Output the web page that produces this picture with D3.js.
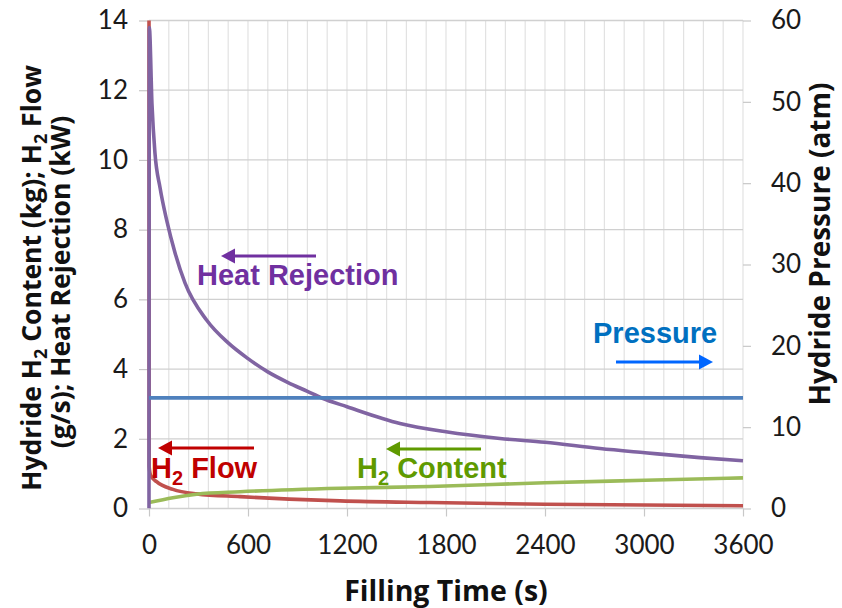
<!DOCTYPE html>
<html>
<head>
<meta charset="utf-8">
<script src="https://cdn.jsdelivr.net/npm/d3@7"></script>
<style>
  html, body { margin: 0; padding: 0; background: #fff; }
</style>
</head>
<body>
<div id="chart"></div>
<script>
// Hydride filling: heat rejection, H2 flow, H2 content (left axis), pressure (right axis)

// ── Data ───────────────────────────────────────────────────────────────────
const heatTime = [0, 2, 18, 36, 67, 107, 158, 218, 350, 480, 600, 720, 840, 960, 1047, 1200, 1521, 1800, 2127, 2400, 2733, 3006, 3339, 3600];
const heatKW   = [0, 13.8, 11.6, 10.2, 9.2, 8.27, 7.33, 6.47, 5.4, 4.75, 4.3, 3.92, 3.62, 3.36, 3.17, 2.92, 2.44, 2.2, 2.01, 1.9, 1.72, 1.6, 1.46, 1.37];

const flowTime = [0, 1, 10, 46, 145, 289, 552, 850, 1158, 1703, 2400, 3000, 3600];
const flowGS   = [15, 1.2, 0.95, 0.77, 0.55, 0.42, 0.34, 0.27, 0.22, 0.17, 0.12, 0.1, 0.08];

const contentTime = [0, 145, 289, 552, 1158, 1703, 2400, 3006, 3600];
const contentKg   = [0.17, 0.31, 0.41, 0.48, 0.58, 0.63, 0.74, 0.81, 0.88];

const pressureTime = [0, 3600];
const pressureAtm  = [13.6, 13.6];

const xTicks      = [0, 600, 1200, 1800, 2400, 3000, 3600];
const yLeftTicks  = [0, 2, 4, 6, 8, 10, 12, 14];
const yRightTicks = [0, 10, 20, 30, 40, 50, 60];

// ── Layout ─────────────────────────────────────────────────────────────────
const W = 842, H = 608;
const margin = { top: 20.5, left: 149, right: 99, bottom: 99.5 };
const iw = W - margin.left - margin.right;
const ih = H - margin.top - margin.bottom;

const tickFont  = 'Lato, "Open Sans", sans-serif';
const titleFont = '"Open Sans", Lato, sans-serif';
const annFont   = '"Liberation Sans", Arial, sans-serif';

const svg = d3.select('#chart').append('svg').attr('width', W).attr('height', H);
const g = svg.append('g').attr('transform', `translate(${margin.left},${margin.top})`);

const x  = d3.scaleLinear().domain([0, 3600]).range([0, iw]);
const yL = d3.scaleLinear().domain([0, 14]).range([ih, 0]);
const yR = d3.scaleLinear().domain([0, 60]).range([ih, 0]);

svg.append('defs').append('clipPath').attr('id', 'plot-clip')
  .append('rect').attr('x', -2).attr('y', 0).attr('width', iw + 4).attr('height', ih);

// Grid — minor verticals every 120 s, horizontals every 2 units
g.append('g').selectAll('line').data(d3.range(120, 3601, 120)).join('line')
  .attr('x1', d => x(d)).attr('x2', d => x(d)).attr('y1', 0).attr('y2', ih)
  .attr('stroke', '#e2e2e2').attr('stroke-width', 1.2);
g.append('g').selectAll('line').data(yLeftTicks).join('line')
  .attr('x1', 0).attr('x2', iw).attr('y1', d => yL(d)).attr('y2', d => yL(d))
  .attr('stroke', '#d0d0d0').attr('stroke-width', 1.3);

// Axes
const styleAxis = sel => {
  sel.select('.domain').remove();
  sel.selectAll('.tick line').attr('stroke', '#c8c8c8').attr('stroke-width', 1.2);
  sel.selectAll('.tick text').attr('fill', '#1a1a1a')
    .style('font-family', tickFont).style('font-size', '26px');
};

g.append('g').attr('transform', `translate(0,${ih})`)
  .call(d3.axisBottom(x).tickValues(xTicks).tickSize(8).tickPadding(19).tickFormat(d3.format('d')))
  .call(styleAxis);
g.append('g')
  .call(d3.axisLeft(yL).tickValues(yLeftTicks).tickSize(10).tickPadding(11))
  .call(styleAxis);
g.append('g').attr('transform', `translate(${iw},0)`)
  .call(d3.axisRight(yR).tickValues(yRightTicks).tickSize(8).tickPadding(20))
  .call(styleAxis);

// Series
const plot = g.append('g').attr('clip-path', 'url(#plot-clip)');
const drawSeries = (times, vals, scale, color) => {
  const pts = times.map((t, i) => [t, vals[i]]);
  plot.append('path').datum(pts)
    .attr('d', d3.line().x(d => x(d[0])).y(d => scale(d[1])).curve(d3.curveMonotoneX))
    .attr('fill', 'none').attr('stroke', color).attr('stroke-width', 3.6)
    .attr('stroke-linejoin', 'round');
};
drawSeries(flowTime, flowGS, yL, '#c0504d');
drawSeries(contentTime, contentKg, yL, '#9bbb59');
drawSeries(heatTime, heatKW, yL, '#8064a2');
drawSeries(pressureTime, pressureAtm, yR, '#4f81bd');

// Annotations (labels with arrows pointing to their axis)
const ann = svg.append('g');

const arrow = (x1, x2, y, color) => {
  const dir = Math.sign(x2 - x1);
  ann.append('line').attr('x1', x1).attr('x2', x2 - dir * 10).attr('y1', y).attr('y2', y)
    .attr('stroke', color).attr('stroke-width', 3);
  ann.append('path')
    .attr('d', `M${x2},${y} L${x2 - dir * 14},${y - 7.5} L${x2 - dir * 14},${y + 7.5} Z`)
    .attr('fill', color);
};
const label = (xp, yp, color, parts) => {
  const t = ann.append('text').attr('x', xp).attr('y', yp).attr('fill', color)
    .style('font-family', annFont).style('font-weight', 'bold').style('font-size', '29px');
  parts.forEach(p => {
    if (p.sub) {
      t.append('tspan').attr('dy', 7).style('font-size', '20px').text(p.text);
    } else {
      t.append('tspan').attr('dy', p.after ? -7 : 0).text(p.text);
    }
  });
};

arrow(316, 221, 256, '#7030a0');
label(197, 285, '#7030a0', [{ text: 'Heat Rejection' }]);

arrow(254, 158, 448, '#c00000');
label(151, 478, '#c00000', [{ text: 'H' }, { text: '2', sub: true }, { text: ' Flow', after: true }]);

arrow(481, 386, 449, '#5f9a00');
label(357, 478, '#5f9a00', [{ text: 'H' }, { text: '2', sub: true }, { text: ' Content', after: true }]);

label(593, 343, '#0070c0', [{ text: 'Pressure' }]);
arrow(616, 713, 362, '#0066ff');

// Axis titles
const title = svg.append('g').attr('fill', '#111')
  .style('font-family', titleFont).style('font-weight', 'bold').style('font-size', '26.5px');
title.append('text').attr('x', 446).attr('y', 601).attr('text-anchor', 'middle')
  .style('font-size', '28.5px').text('Filling Time (s)');

const lt1 = title.append('text').attr('text-anchor', 'middle')
  .attr('transform', 'translate(41,278) rotate(-90)');
lt1.append('tspan').text('Hydride H');
lt1.append('tspan').attr('dy', 6).style('font-size', '18px').text('2');
lt1.append('tspan').attr('dy', -6).text(' Content (kg); H');
lt1.append('tspan').attr('dy', 6).style('font-size', '18px').text('2');
lt1.append('tspan').attr('dy', -6).text(' Flow');

title.append('text').attr('text-anchor', 'middle')
  .attr('transform', 'translate(70,282) rotate(-90)')
  .text('(g/s); Heat Rejection (kW)');

title.append('text').attr('text-anchor', 'middle')
  .attr('transform', 'translate(830,244) rotate(-90)')
  .style('font-size', '28px')
  .text('Hydride Pressure (atm)');
</script>
</body>
</html>
